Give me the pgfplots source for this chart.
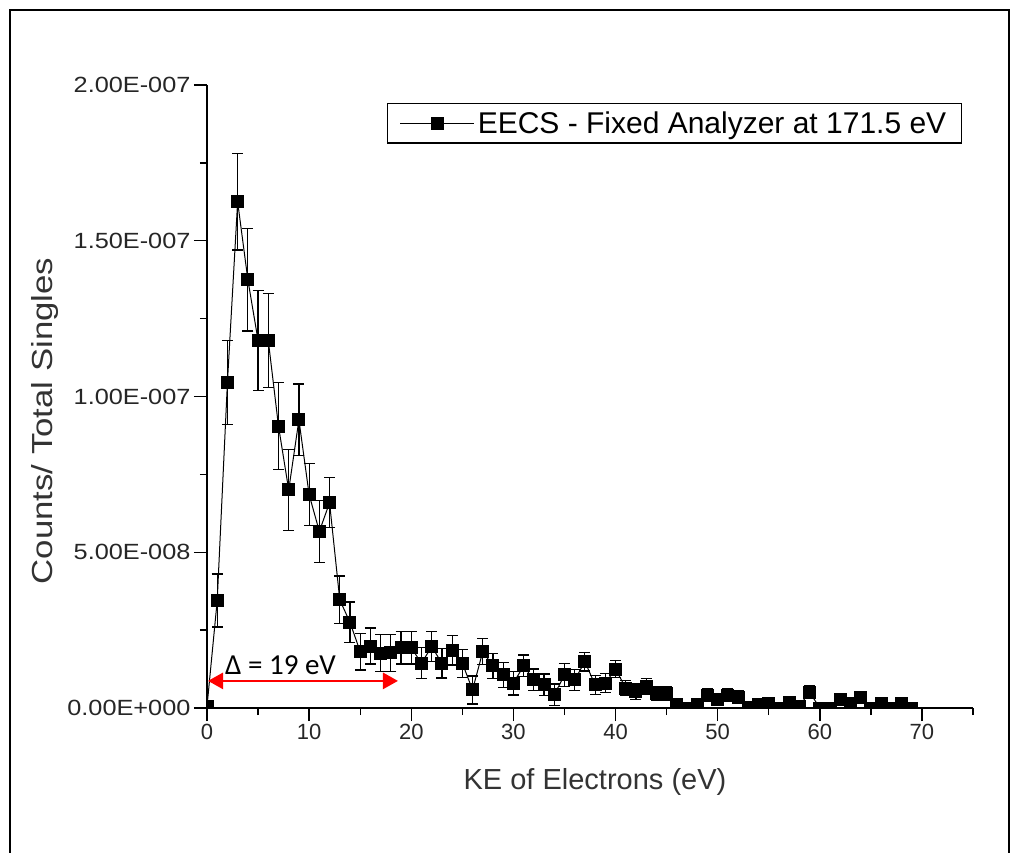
\documentclass[border=0pt]{standalone}
\usepackage{fontspec}
\setmainfont{Liberation Sans}
\newfontfamily\carlito{Carlito}
\usepackage{pgfplots}
\usepackage{pgfplotstable}
\pgfplotsset{compat=1.18}
\usetikzlibrary{arrows.meta}

\pgfplotstableread{
x y e
0 0.05e-8 0.1e-8
1 3.45e-8 0.85e-8
2 10.45e-8 1.35e-8
3 16.25e-8 1.55e-8
4 13.75e-8 1.65e-8
5 11.8e-8 1.6e-8
6 11.8e-8 1.5e-8
7 9.05e-8 1.4e-8
8 7.0e-8 1.3e-8
9 9.25e-8 1.15e-8
10 6.85e-8 1.0e-8
11 5.67e-8 1.0e-8
12 6.59e-8 0.8e-8
13 3.47e-8 0.77e-8
14 2.75e-8 0.65e-8
15 1.81e-8 0.59e-8
16 1.99e-8 0.58e-8
17 1.76e-8 0.6e-8
18 1.77e-8 0.6e-8
19 1.93e-8 0.52e-8
20 1.93e-8 0.52e-8
21 1.44e-8 0.5e-8
22 1.97e-8 0.48e-8
23 1.44e-8 0.48e-8
24 1.86e-8 0.48e-8
25 1.44e-8 0.45e-8
26 0.58e-8 0.45e-8
27 1.81e-8 0.42e-8
28 1.35e-8 0.4e-8
29 1.06e-8 0.4e-8
30 0.8e-8 0.38e-8
31 1.35e-8 0.35e-8
32 0.9e-8 0.35e-8
33 0.74e-8 0.35e-8
34 0.42e-8 0.35e-8
35 1.06e-8 0.37e-8
36 0.9e-8 0.33e-8
37 1.49e-8 0.3e-8
38 0.74e-8 0.3e-8
39 0.8e-8 0.3e-8
40 1.25e-8 0.27e-8
41 0.64e-8 0.25e-8
42 0.52e-8 0.25e-8
43 0.7e-8 0.25e-8
44 0.48e-8 0.22e-8
45 0.48e-8 0.22e-8
46 0.1e-8 0.2e-8
47 0.0 0.15e-8
48 0.1e-8 0.2e-8
49 0.41e-8 0.2e-8
50 0.27e-8 0.2e-8
51 0.41e-8 0.2e-8
52 0.35e-8 0.2e-8
53 0.03e-8 0.15e-8
54 0.1e-8 0.15e-8
55 0.14e-8 0.15e-8
56 0.0 0.1e-8
57 0.19e-8 0.15e-8
58 0.06e-8 0.15e-8
59 0.51e-8 0.2e-8
60 0.0 0.1e-8
61 0.0 0.1e-8
62 0.27e-8 0.15e-8
63 0.14e-8 0.15e-8
64 0.33e-8 0.15e-8
65 0.0 0.1e-8
66 0.14e-8 0.15e-8
67 0.0 0.1e-8
68 0.14e-8 0.15e-8
69 0.0 0.1e-8
}\datatable

\newcommand{\yl}[1]{\scalebox{1.15}[1]{#1}}

\begin{document}
\begin{tikzpicture}
\useasboundingbox (0pt,0pt) rectangle (1017pt,852pt);
\draw[line width=2pt] (10pt,-5pt) -- (10pt,842pt) -- (1009pt,842pt) -- (1009pt,-5pt);
\begin{axis}[
  at={(207pt,144pt)}, anchor=south west,
  scale only axis, width=766pt, height=623pt,
  xmin=0, xmax=75, ymin=0, ymax=2e-7,
  axis lines=left,
  axis line style={-, line width=1.6pt},
  xtick={0,10,20,30,40,50,60,70},
  xticklabels={0,10,20,30,40,50,60,70},
  minor xtick={5,15,25,35,45,55,65,75},
  ytick={0,5e-8,1e-7,1.5e-7,2e-7},
  yticklabels={\yl{0.00E+000},\yl{5.00E-008},\yl{1.00E-007},\yl{1.50E-007},\yl{2.00E-007}},
  minor ytick={2.5e-8,7.5e-8,1.25e-7,1.75e-7},
  scaled y ticks=false,
  tick align=outside,
  major tick length=13pt, minor tick length=7pt,
  every tick/.style={black, line width=1.4pt},
  tick label style={font=\fontsize{22}{24}\selectfont, text=black!85},
  /pgf/number format/assume math mode=true,
  clip marker paths=true,
  xlabel={KE of Electrons (eV)},
  ylabel={\scalebox{1.2}[1]{Counts/ Total Singles}},
  xlabel style={at={(axis description cs:0.5065,-0.1188)}, anchor=center, font=\fontsize{29}{32}\selectfont, text=black!80},
  ylabel style={at={(axis description cs:-0.2115,0.4607)}, anchor=center, font=\fontsize{29}{32}\selectfont, text=black!80},
  legend style={at={(axis description cs:0.9856,0.971)}, anchor=north east,
    draw=black, line width=1.3pt, font=\fontsize{30}{33}\selectfont,
    inner xsep=12pt, inner ysep=5pt, nodes={inner sep=3pt}},
  legend cell align=left,
  legend image code/.code={\draw[mark repeat=2,mark phase=2,#1] plot coordinates {(0pt,0pt) (37pt,0pt) (74pt,0pt)};},
]
\addplot[black, line width=1pt, mark=square*, mark size=6pt, mark options={solid},
  error bars/.cd, y dir=both, y explicit,
  error mark=-,
  error mark options={rotate=90, black, mark size=5.5pt, line width=1.2pt},
  error bar style={line width=1.2pt}]
  table[x=x, y=y, y error=e] {\datatable};
\addlegendentry{EECS - Fixed Analyzer at 171.5 eV}
\draw[red, line width=2.7pt, {Triangle[length=15pt,width=16pt]}-{Triangle[length=15pt,width=16pt]}]
  (axis cs:0.1,0.87e-8) -- (axis cs:18.7,0.87e-8);
\node[anchor=base west, font=\carlito\fontsize{29}{30}\selectfont, inner sep=0pt] at (axis cs:1.76,1.06e-8) {Δ = 19 eV};
\end{axis}
\end{tikzpicture}
\end{document}
